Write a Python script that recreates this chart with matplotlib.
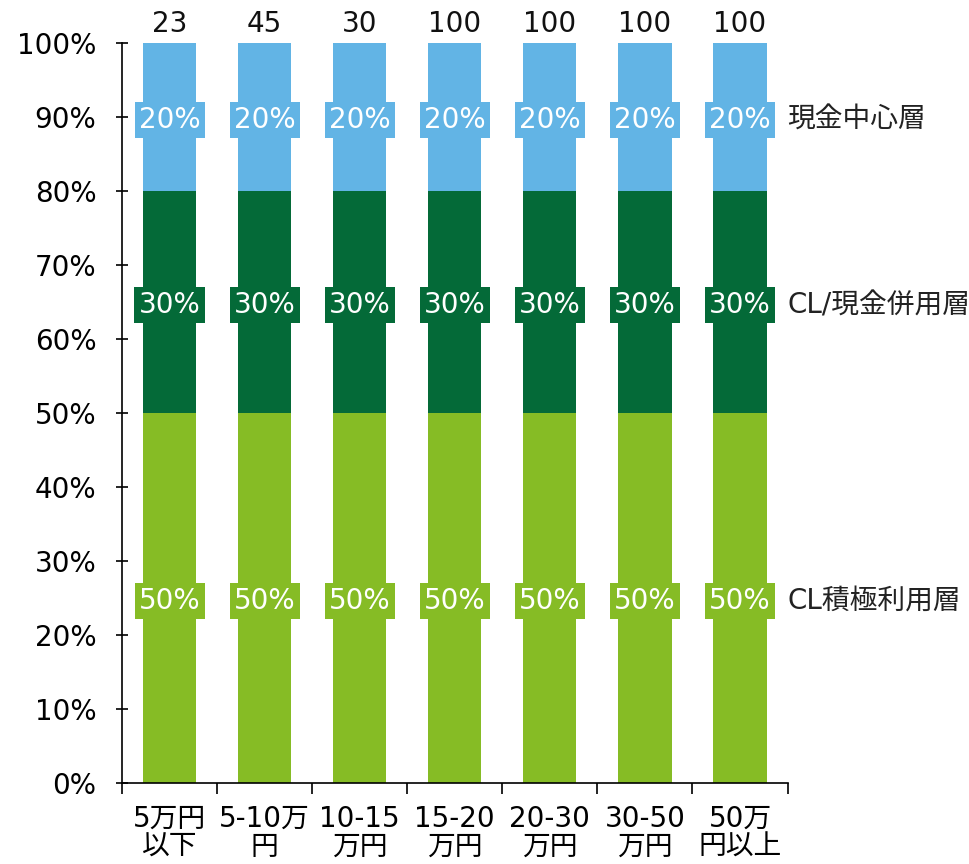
import numpy as np
import matplotlib
matplotlib.use("Agg")
import matplotlib.pyplot as plt
from matplotlib.ticker import PercentFormatter, FixedLocator

plt.rcParams['font.family'] = ['DejaVu Sans', 'Noto Sans CJK JP']

categories = ["5万円\n以下", "5-10万\n円", "10-15\n万円", "15-20\n万円", "20-30\n万円", "30-50\n万円", "50万\n円以上"]
counts = [23, 45, 30, 100, 100, 100, 100]
layers = ["CL積極利用層", "CL/現金併用層", "現金中心層"]
shares = {
    "CL積極利用層": [0.50, 0.50, 0.50, 0.50, 0.50, 0.50, 0.50],
    "CL/現金併用層": [0.30, 0.30, 0.30, 0.30, 0.30, 0.30, 0.30],
    "現金中心層": [0.20, 0.20, 0.20, 0.20, 0.20, 0.20, 0.20],
}
colors = {"CL積極利用層": "#86BC25", "CL/現金併用層": "#046A38", "現金中心層": "#62B4E5"}

fig = plt.figure(figsize=(9.69, 8.64), dpi=100)
ax = fig.add_axes([0.1259, 0.0938, 0.6868, 0.8564])

x = np.arange(len(categories))
fs = 20
bottom = np.zeros(len(categories))
for name in layers:
    vals = np.array(shares[name])
    ax.bar(x, vals, width=0.56, bottom=bottom, color=colors[name], linewidth=0)
    for xi, b, v in zip(x, bottom, vals):
        ax.text(xi, b + v / 2, f"{v:.0%}", ha="center", va="center_baseline", color="white", fontsize=fs,
                bbox=dict(boxstyle="square,pad=0.15", fc=colors[name], ec="none"))
    # series name to the right of the last bar
    ax.text(x[-1] + 0.5, bottom[-1] + vals[-1] / 2, name, ha="left", va="center_baseline", fontsize=fs,
            color="#222222")
    bottom = bottom + vals

for xi, c in zip(x, counts):
    ax.text(xi, 1.007, str(c), ha="center", va="bottom", fontsize=fs, color="#111111")

ax.set_xlim(-0.5, len(categories) - 0.5)
ax.set_ylim(0, 1)
ax.yaxis.set_major_locator(FixedLocator(np.arange(0, 1.01, 0.1)))
ax.yaxis.set_major_formatter(PercentFormatter(1.0, decimals=0))
ax.tick_params(axis="y", direction="inout", length=9, width=1.2, labelsize=fs, pad=14)

ax.set_xticks(x)
ax.set_xticklabels(categories, fontsize=fs, linespacing=1.0)
ax.tick_params(axis="x", which="major", length=0, pad=16)
ax.set_xticks(np.arange(-0.5, len(categories)), minor=True)
ax.tick_params(axis="x", which="minor", direction="out", length=8, width=1.2)

for s in ("top", "right"):
    ax.spines[s].set_visible(False)
for s in ("left", "bottom"):
    ax.spines[s].set_linewidth(1.2)

fig.savefig("out.png", dpi=100)
